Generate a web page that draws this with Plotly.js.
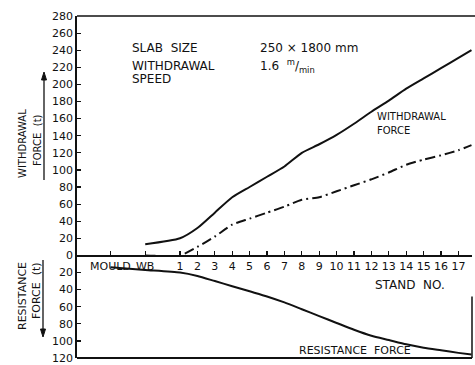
<!DOCTYPE html>
<html>
<head>
<meta charset="utf-8">
<script src="https://cdn.plot.ly/plotly-3.0.1.min.js"></script>
<style>html,body{margin:0;padding:0;background:#fff;}#chart{width:475px;height:365px;}</style>
</head>
<body>
<div id="chart"></div>
<script>
// Stand positions: MOULD = -3, WB = -1, stands 1..17; last point is the right edge of the chart
const standTickVals = [-3, -1, 1, 2, 3, 4, 5, 6, 7, 8, 9, 10, 11, 12, 13, 14, 15, 16, 17];
const standTickText = ["MOULD", "WB", "1", "2", "3", "4", "5", "6", "7", "8", "9", "10", "11", "12", "13", "14", "15", "16", "17"];

const withdrawalX = [-1, 1, 2, 3, 4, 5, 6, 7, 8, 9, 10, 11, 12, 13, 14, 15, 16, 17, 17.75];
const withdrawalForce = [13, 20, 32, 50, 68, 80, 92, 104, 120, 130, 141, 154, 168, 181, 195, 207, 219, 231, 240];

const netX = [-1, 1, 2, 3, 4, 5, 6, 7, 8, 9, 10, 11, 12, 13, 14, 15, 16, 17, 17.75];
const netForce = [0, 0, 10, 22, 36, 43, 50, 57, 65, 68, 75, 82, 89, 97, 106, 112, 117, 123, 129];

const resistanceX = [-3, -1, 1, 2, 3, 4, 5, 6, 7, 8, 9, 10, 11, 12, 13, 14, 15, 16, 17, 17.75];
const resistanceForce = [14, 17, 20, 24, 30, 36, 42, 48, 55, 63, 71, 79, 87, 94, 99, 104, 108, 111, 114, 116];

const yTickVals = [-120, -100, -80, -60, -40, -20, 0, 20, 40, 60, 80, 100, 120, 140, 160, 180, 200, 220, 240, 260, 280];
const yTickText = yTickVals.map(v => String(Math.abs(v)));

const W = 475, H = 365, L = 77, R = 3, T = 16, B = 7;
const pw = W - L - R, ph = H - T - B;
const px = x => (x - L) / pw;
const py = y => (H - B - y) / ph;

const black = '#111';
const fam = 'DejaVu Sans, sans-serif';

const traces = [
  {x: withdrawalX, y: withdrawalForce, mode: 'lines', line: {color: black, width: 2, shape: 'spline', smoothing: 0.6}, hoverinfo: 'skip'},
  {x: netX, y: netForce, mode: 'lines', line: {color: black, width: 2, dash: '10px,4px,2px,4px', shape: 'spline', smoothing: 0.6}, hoverinfo: 'skip'},
  {x: resistanceX, y: resistanceForce.map(v => -v), mode: 'lines', line: {color: black, width: 2, shape: 'spline', smoothing: 0.6}, hoverinfo: 'skip'}
];

function txt(text, x, y, size, opts) {
  return Object.assign({text: text, xref: 'paper', yref: 'paper', x: px(x), y: py(y), xanchor: 'left', yanchor: 'middle',
    showarrow: false, font: {family: fam, size: size, color: black}}, opts || {});
}

const annotations = [
  txt('SLAB  SIZE', 130, 48, 12),
  txt('250 × 1800 mm', 258, 48, 12),
  txt('WITHDRAWAL', 130, 66, 12),
  txt('SPEED', 130, 79, 12),
  txt('1.6  <sup>m</sup>/<sub>min</sub>', 258, 66, 12),
  txt('WITHDRAWAL', 375, 117, 10),
  txt('FORCE', 375, 130, 10),
  txt('STAND  NO.', 373, 285, 12),
  txt('RESISTANCE  FORCE', 297, 350, 11),
  txt('WITHDRAWAL', 22, 144, 10, {xanchor: 'center', textangle: -90}),
  txt('FORCE  (t)', 37, 140, 10, {xanchor: 'center', textangle: -90}),
  txt('RESISTANCE', 22, 296, 11, {xanchor: 'center', textangle: -90}),
  txt('FORCE  (t)', 36, 291, 11, {xanchor: 'center', textangle: -90})
];

function arrowShapes(x, yTail, yTip) {
  const dir = yTip < yTail ? 1 : -1; // 1 = pointing up
  const base = yTip + dir * 8;
  return [
    {type: 'line', xref: 'paper', yref: 'paper', x0: px(x), x1: px(x), y0: py(yTail), y1: py(base), line: {color: black, width: 1.3}},
    {type: 'path', xref: 'paper', yref: 'paper',
     path: `M ${px(x)},${py(yTip)} L ${px(x - 2.5)},${py(base)} L ${px(x + 2.5)},${py(base)} Z`,
     fillcolor: black, line: {color: black, width: 1}}
  ];
}

const layout = {
  width: W, height: H,
  margin: {l: L, r: R, t: T, b: B, pad: 0},
  paper_bgcolor: '#fff', plot_bgcolor: '#fff',
  showlegend: false,
  font: {family: fam, color: black, size: 11},
  xaxis: {
    range: [-4.92, 17.78], anchor: 'free', position: 0.3,
    tickmode: 'array', tickvals: standTickVals, ticktext: standTickText,
    ticks: 'inside', ticklen: 4, tickwidth: 1.2, tickcolor: black,
    showline: true, linecolor: black, linewidth: 1.5,
    showgrid: false, zeroline: false,
    tickfont: {family: fam, size: 11, color: black}
  },
  yaxis: {
    range: [-120, 280],
    tickmode: 'array', tickvals: yTickVals, ticktext: yTickText,
    ticks: 'inside', ticklen: 4, tickwidth: 1.2, tickcolor: black,
    showline: true, linecolor: black, linewidth: 1.8,
    showgrid: false, zeroline: false,
    tickfont: {family: fam, size: 11, color: black}
  },
  shapes: [
    {type: 'line', xref: 'paper', yref: 'paper', x0: 0, x1: 1.01, y0: 1, y1: 1, line: {color: black, width: 1.5}},
    {type: 'line', xref: 'paper', yref: 'paper', x0: 0, x1: 1, y0: 0, y1: 0, line: {color: black, width: 1.8}},
    {type: 'line', xref: 'paper', yref: 'paper', x0: 1, x1: 1, y0: 0, y1: 0.18, line: {color: black, width: 1.5}}
  ].concat(arrowShapes(44, 180, 72), arrowShapes(43, 260, 337)),
  annotations: annotations
};

Plotly.newPlot('chart', traces, layout, {displayModeBar: false, staticPlot: true});
</script>
</body>
</html>
